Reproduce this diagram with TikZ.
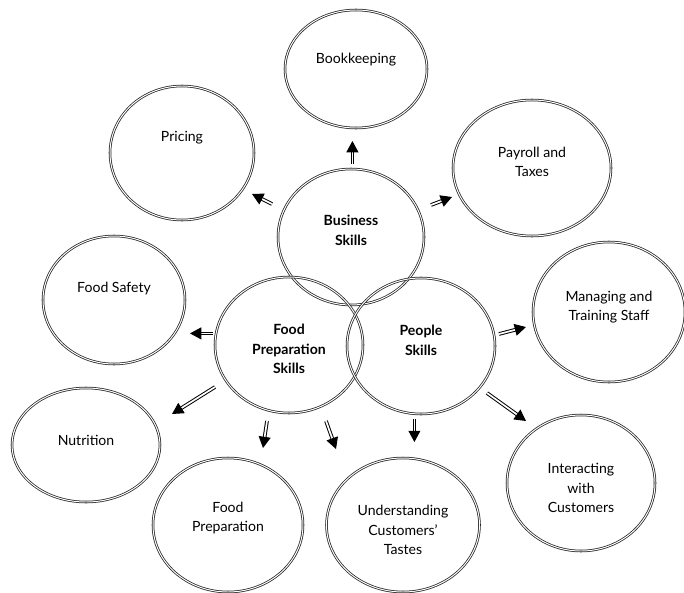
\documentclass[tikz,border=0pt]{standalone}
\usepackage{fontspec}
\setmainfont{Lato}
\usetikzlibrary{shapes.geometric, arrows.meta}
\newcommand{\px}{0.025cm}

\tikzset{
  bubble/.style={ellipse, draw=black!85, double=white, double distance=0.7pt,
    line width=0.55pt, inner sep=0pt},
  lbl/.style={font=\fontsize{10}{14}\selectfont, align=center},
  hub/.style={font=\bfseries\fontsize{10}{14}\selectfont, align=center},
  arr/.style={draw=black, double=white, double distance=1.2pt, line width=0.7pt,
    -{Triangle[length=8pt, width=8.5pt]}},
}

\begin{document}
\begin{tikzpicture}[x=\px, y=-\px]
  \useasboundingbox (0,0) rectangle (684,592);

  % three skill groups in the middle
  \node[bubble, minimum width=146*\px, minimum height=136*\px,
        label={[hub, yshift=7*\px]center:Business\\Skills}] (biz) at (351,237) {};
  \node[bubble, minimum width=148*\px, minimum height=136*\px,
        label={[hub, yshift=-4*\px]center:Food\\Preparation\\Skills}] (fps) at (289,345) {};
  \node[bubble, minimum width=148*\px, minimum height=136*\px,
        label={[hub, yshift=6*\px]center:People\\Skills}] (ppl) at (421,346) {};

  % business topics
  \node[bubble, minimum width=142*\px, minimum height=118*\px,
        label={[lbl, yshift=9*\px]center:Bookkeeping}] (book) at (356,69) {};
  \node[bubble, minimum width=144*\px, minimum height=134*\px,
        label={[lbl, yshift=15*\px]center:Pricing}] (price) at (182,153) {};
  \node[bubble, minimum width=158*\px, minimum height=136*\px,
        label={[lbl, yshift=6*\px]center:Payroll and\\Taxes}] (pay) at (532,168) {};

  % food preparation topics
  \node[bubble, minimum width=142*\px, minimum height=128*\px,
        label={[lbl, yshift=11*\px]center:Food Safety}] (safe) at (114,300) {};
  \node[bubble, minimum width=148*\px, minimum height=114*\px,
        label={[lbl, yshift=5*\px]center:Nutrition}] (nutr) at (86,445) {};
  \node[bubble, minimum width=150*\px, minimum height=134*\px,
        label={[lbl, yshift=7*\px]center:Food\\Preparation}] (prep) at (228,525) {};
  \node[bubble, minimum width=153*\px, minimum height=134*\px,
        label={[lbl, yshift=-5*\px]center:Understanding\\Customers'\\Tastes}] (taste) at (403,525) {};

  % people topics
  \node[bubble, minimum width=152*\px, minimum height=140*\px,
        label={[lbl, yshift=5*\px]center:Managing and\\Training Staff}] (staff) at (609,312) {};
  \node[bubble, minimum width=148*\px, minimum height=136*\px,
        label={[lbl, yshift=-5*\px]center:Interacting\\with\\Customers}] (cust) at (581,483) {};

  % arrow ends
  \coordinate (b1) at (352.4,164); \coordinate (b1e) at (352.4,141);
  \coordinate (b2) at (272,204); \coordinate (b2e) at (252,194);
  \coordinate (b3) at (431,205); \coordinate (b3e) at (452,197);
  \coordinate (f1) at (213,333.4); \coordinate (f1e) at (190,333.4);
  \coordinate (f2) at (215,387); \coordinate (f2e) at (172,414);
  \coordinate (f3) at (267,421); \coordinate (f3e) at (263,448);
  \coordinate (f4) at (326,421); \coordinate (f4e) at (336,449);
  \coordinate (p1) at (499,334); \coordinate (p1e) at (526,327);
  \coordinate (p2) at (487,393); \coordinate (p2e) at (526,421);
  \coordinate (p3) at (414.4,419); \coordinate (p3e) at (414.4,442);

  \foreach \s in {b1,b2,b3,f1,f2,f3,f4,p1,p2,p3}
    \draw[arr] (\s) -- (\s e);

\end{tikzpicture}
\end{document}
